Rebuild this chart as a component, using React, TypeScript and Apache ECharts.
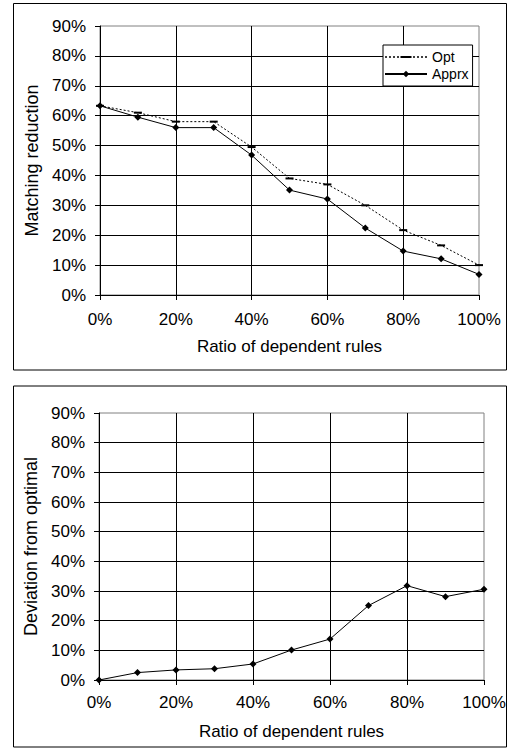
import React, { useEffect, useRef } from "react";
import * as echarts from "echarts";

const ratios = [0, 10, 20, 30, 40, 50, 60, 70, 80, 90, 100];
const optValues = [63.3, 61, 58, 58, 49.5, 39, 37, 30, 21.7, 16.6, 10];
const apprxValues = [63.3, 59.5, 56, 56, 46.8, 35.1, 32.1, 22.4, 14.7, 12.1, 6.9];
const deviationValues = [0, 2.5, 3.4, 3.8, 5.4, 10.1, 13.8, 25.1, 31.8, 28.1, 30.6];
const xTickStep = 20;
const yTickStep = 10;
const xTitle = "Ratio of dependent rules";
const yTitleTop = "Matching reduction";
const yTitleBottom = "Deviation from optimal";

const FONT = "Liberation Sans, Arial, sans-serif";

// legend glyph for "Opt": dotted line with a dash in the middle (42 x 8 box)
const optLegendIcon =
  "path://M0,0L0,0M42,8L42,8" +
  "M0,3.3h2v1.4h-2zM4,3.3h2v1.4h-2zM8,3.3h2v1.4h-2zM12,3.3h2v1.4h-2z" +
  "M15.5,3h11v2h-11z" +
  "M28,3.3h2v1.4h-2zM32,3.3h2v1.4h-2zM36,3.3h2v1.4h-2zM40,3.3h2v1.4h-2z";

function pairs(vals: number[]) {
  return ratios.map((r, i) => [r, vals[i]]);
}

function xAxisCfg(gridIndex: number, labelMargin: number) {
  return {
    type: "value",
    gridIndex,
    min: 0,
    max: 100,
    interval: xTickStep,
    name: xTitle,
    nameLocation: "middle",
    nameGap: 43,
    nameTextStyle: { fontSize: 17, color: "#000", fontFamily: FONT },
    axisLine: { show: true, onZero: false, lineStyle: { color: "#000", width: 1 } },
    axisTick: { show: true, length: 5, lineStyle: { color: "#000" } },
    axisLabel: {
      formatter: "{value}%",
      fontSize: 17,
      color: "#000",
      fontFamily: FONT,
      margin: labelMargin,
    },
    splitLine: { show: true, showMaxLine: false, lineStyle: { color: "#000", width: 1 } },
  };
}

function yAxisCfg(gridIndex: number, name: string) {
  return {
    type: "value",
    gridIndex,
    min: 0,
    max: 90,
    interval: yTickStep,
    name,
    nameLocation: "middle",
    nameGap: 59,
    nameTextStyle: { fontSize: 18, color: "#000", fontFamily: FONT },
    axisLine: { show: true, onZero: false, lineStyle: { color: "#000", width: 1 } },
    axisTick: { show: true, length: 5, lineStyle: { color: "#000" } },
    axisLabel: {
      formatter: "{value}%",
      fontSize: 17,
      color: "#000",
      fontFamily: FONT,
      margin: 14,
    },
    splitLine: { show: true, showMaxLine: false, lineStyle: { color: "#000", width: 1 } },
  };
}

export default function App() {
  const ref = useRef<HTMLDivElement>(null);
  useEffect(() => {
    if (!ref.current) return;
    const chart = echarts.init(ref.current, undefined, { renderer: "svg" });
    chart.setOption({
      animation: false,
      backgroundColor: "#fff",
      grid: [
        { left: 100, top: 26, width: 379, height: 269, show: true, borderColor: "#808080", borderWidth: 1, backgroundColor: "transparent" },
        { left: 99, top: 413, width: 385, height: 267, show: true, borderColor: "#808080", borderWidth: 1, backgroundColor: "transparent" },
      ],
      xAxis: [xAxisCfg(0, 16), xAxisCfg(1, 14)],
      yAxis: [yAxisCfg(0, yTitleTop), yAxisCfg(1, yTitleBottom)],
      legend: {
        data: [
          { name: "Opt", icon: optLegendIcon, itemStyle: { color: "#000", borderWidth: 0 } },
          { name: "Apprx" },
        ],
        orient: "vertical",
        left: 383,
        top: 45,
        padding: [5, 4, 5, 1],
        itemWidth: 42,
        itemHeight: 8,
        itemGap: 3,
        borderColor: "#000",
        borderWidth: 1,
        backgroundColor: "#fff",
        textStyle: { fontSize: 14, color: "#000", fontFamily: FONT },
      },
      graphic: [
        { type: "rect", shape: { x: 13.5, y: 3.5, width: 493, height: 366.5 }, style: { fill: "none", stroke: "#000", lineWidth: 1 }, z: -10, silent: true },
        { type: "rect", shape: { x: 13.5, y: 386, width: 493, height: 361 }, style: { fill: "none", stroke: "#000", lineWidth: 1 }, z: -10, silent: true },
      ],
      series: [
        {
          name: "Opt",
          type: "line",
          xAxisIndex: 0,
          yAxisIndex: 0,
          data: pairs(optValues),
          symbol: "rect",
          symbolSize: [8, 2],
          lineStyle: { color: "#000", width: 1, type: [2, 2] },
          itemStyle: { color: "#000" },
          z: 3,
        },
        {
          name: "Apprx",
          type: "line",
          xAxisIndex: 0,
          yAxisIndex: 0,
          data: pairs(apprxValues),
          symbol: "diamond",
          symbolSize: 7,
          lineStyle: { color: "#000", width: 1 },
          itemStyle: { color: "#000" },
          z: 4,
        },
        {
          name: "Deviation",
          type: "line",
          xAxisIndex: 1,
          yAxisIndex: 1,
          data: pairs(deviationValues),
          symbol: "diamond",
          symbolSize: 7,
          lineStyle: { color: "#000", width: 1 },
          itemStyle: { color: "#000" },
          z: 4,
        },
      ],
    });
    return () => chart.dispose();
  }, []);
  return (
    <div
      ref={ref}
      style={{ position: "absolute", left: 0, top: 0, width: 512, height: 756 }}
    />
  );
}
